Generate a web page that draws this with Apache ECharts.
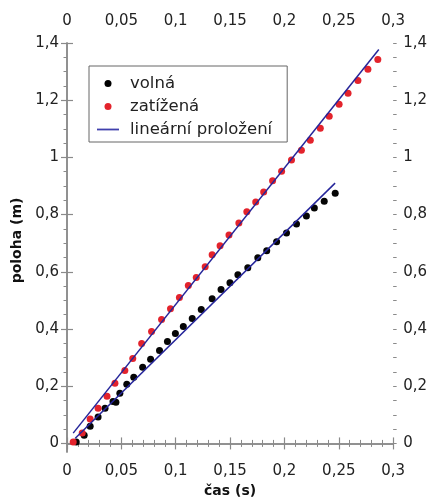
<!DOCTYPE html>
<html>
<head>
<meta charset="utf-8">
<script src="https://cdn.jsdelivr.net/npm/echarts@6/dist/echarts.min.js"></script>
<style>html,body{margin:0;padding:0;background:#fff}#c{width:430px;height:504px}</style>
</head>
<body>
<div id="c"></div>
<script>
// volná (free) data: time [s], position [m]
const volnaT = [0.0085,0.0158,0.0213,0.0286,0.0350,0.0423,0.0450,0.0486,0.0550,0.0614,0.0696,0.0769,0.0851,0.0924,0.0997,0.1070,0.1152,0.1235,0.1335,0.1417,0.1499,0.1572,0.1663,0.1755,0.1837,0.1928,0.2019,0.2111,0.2202,0.2275,0.2366,0.2467];
const volnaY = [0.005,0.029,0.060,0.092,0.123,0.147,0.144,0.175,0.207,0.231,0.266,0.294,0.325,0.356,0.384,0.409,0.437,0.468,0.506,0.538,0.562,0.590,0.614,0.649,0.674,0.705,0.736,0.767,0.795,0.823,0.847,0.875];
// zatížená (loaded) data
const zatT = [0.0057,0.0140,0.0213,0.0286,0.0368,0.0441,0.0532,0.0605,0.0687,0.0778,0.0870,0.0952,0.1034,0.1116,0.1189,0.1271,0.1335,0.1408,0.1490,0.1581,0.1654,0.1736,0.1809,0.1891,0.1974,0.2065,0.2156,0.2238,0.2330,0.2412,0.2503,0.2585,0.2676,0.2768,0.2859];
const zatY = [0.005,0.036,0.085,0.123,0.165,0.210,0.255,0.297,0.349,0.391,0.433,0.471,0.510,0.552,0.580,0.618,0.660,0.691,0.729,0.771,0.810,0.844,0.879,0.918,0.952,0.991,1.025,1.060,1.102,1.144,1.186,1.224,1.269,1.308,1.342];
// linear fits (endpoints)
const fitVolnaT = [0.0076, 0.2466];
const fitVolnaY = [0.018, 0.910];
const fitZatT = [0.0057, 0.2868];
const fitZatY = [0.036, 1.377];
// ticks
const xMin = 0, xMax = 0.3, xInterval = 0.05;
const yMin = -0.03, yMax = 1.4;
const yMajorTicks = [0,0.2,0.4,0.6,0.8,1.0,1.2,1.4];
const yMinorTicks = [0,0.05,0.1,0.15,0.2,0.25,0.3,0.35,0.4,0.45,0.5,0.55,0.6,0.65,0.7,0.75,0.8,0.85,0.9,0.95,1.0,1.05,1.1,1.15,1.2,1.25,1.3,1.35,1.4];

const zip = (a,b) => a.map((v,i)=>[v,b[i]]);
const fmt = v => String(+(+v).toFixed(3)).replace('.', ',');
const FONT = 'DejaVu Sans';
const AX = '#8a8a8a';
const LBL = '#222';
const LINE = '#25259a';

function xAxisDef(pos, margin) {
  return {
    type:'value', position:pos, min:xMin, max:xMax, interval:xInterval,
    axisLine:{show:true, lineStyle:{color:AX, width:1.5}},
    axisTick:{show:true, inside:true, length:6, lineStyle:{color:AX, width:1.2}},
    minorTick:{show:true, splitNumber:5, length:3.5, lineStyle:{color:AX, width:1}},
    splitLine:{show:false},
    axisLabel:{show:true, margin:margin, color:LBL, fontFamily:FONT, fontSize:15, formatter:fmt, showMinLabel:true, showMaxLabel:true}
  };
}
function yMajor(pos, margin) {
  return {
    type:'value', position:pos, min:yMin, max:yMax,
    axisLine:{show:true, lineStyle:{color:AX, width:1.5}},
    axisTick:{show:true, inside:false, length:6, customValues:yMajorTicks, lineStyle:{color:AX, width:1.2}},
    splitLine:{show:false},
    axisLabel:{show:true, margin:margin, color:LBL, fontFamily:FONT, fontSize:15, customValues:yMajorTicks, formatter:fmt}
  };
}
function yMinor(pos) {
  return {
    type:'value', position:pos, min:yMin, max:yMax,
    axisLine:{show:false},
    axisTick:{show:true, inside:false, length:3.5, customValues:yMinorTicks, lineStyle:{color:AX, width:1}},
    splitLine:{show:false},
    axisLabel:{show:false}
  };
}

const chart = echarts.init(document.getElementById('c'), null, {renderer:'canvas'});
const xb = xAxisDef('bottom', 12);
xb.name = 'čas (s)';
xb.nameLocation = 'middle';
xb.nameGap = 30;
xb.nameTextStyle = {fontFamily:FONT, fontWeight:'bold', fontSize:14, color:'#111'};
const yl = yMajor('left', 8);
yl.name = 'poloha (m)';
yl.nameLocation = 'middle';
yl.nameGap = 41;
yl.nameTextStyle = {fontFamily:FONT, fontWeight:'bold', fontSize:14, color:'#111', padding:[0,0,0,14]};

chart.setOption({
  animation:false,
  backgroundColor:'#fff',
  grid:{left:67, right:35, top:43, bottom:52, containLabel:false},
  xAxis:[xb, xAxisDef('top', 14)],
  yAxis:[yl, yMajor('right', 10), yMinor('left'), yMinor('right')],
  legend:{
    show:true, orient:'vertical', left:89, top:66,
    data:[
      {name:'volná', icon:'circle', itemStyle:{color:'#000', opacity:1}},
      {name:'zatížená', icon:'circle', itemStyle:{color:'#e3232c', opacity:1}},
      {name:'lineární proložení', icon:'path://M0,0L22,0L22,1.8L0,1.8Z', itemStyle:{color:'#4040ad'}}
    ],
    itemWidth:22, itemHeight:7, itemGap:6,
    padding:[9,15,4,8],
    borderColor:'#666', borderWidth:1, backgroundColor:'#fff',
    textStyle:{fontFamily:FONT, fontSize:16.5, color:'#222', padding:[0,0,0,6]}
  },
  series:[
    {name:'volná', type:'scatter', xAxisIndex:0, yAxisIndex:0, data:zip(volnaT, volnaY), symbol:'circle', symbolSize:7, itemStyle:{color:'#050505', opacity:1}, z:2},
    {name:'zatížená', type:'scatter', xAxisIndex:0, yAxisIndex:0, data:zip(zatT, zatY), symbol:'circle', symbolSize:7, itemStyle:{color:'#e3232c', opacity:1}, z:2},
    {name:'lineární proložení', type:'line', xAxisIndex:0, yAxisIndex:0, data:zip(fitZatT, fitZatY), symbol:'none', lineStyle:{color:LINE, width:1.5}, itemStyle:{color:LINE}, z:3},
    {name:'lineární proložení', type:'line', xAxisIndex:0, yAxisIndex:0, data:zip(fitVolnaT, fitVolnaY), symbol:'none', lineStyle:{color:LINE, width:1.5}, itemStyle:{color:LINE}, z:3}
  ]
});
</script>
</body>
</html>
